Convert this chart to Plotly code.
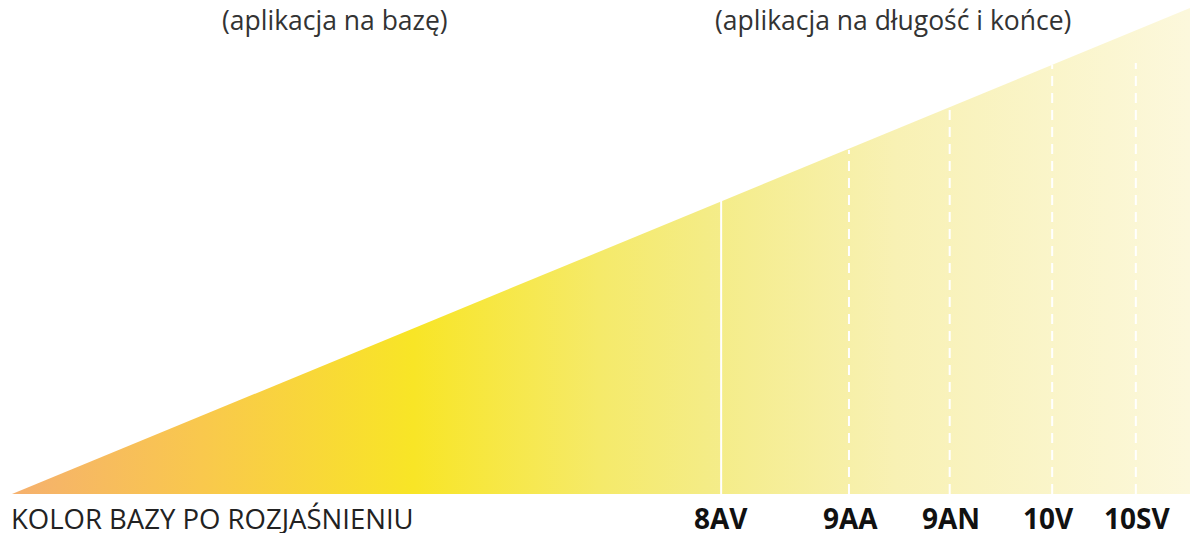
import plotly.graph_objects as go

# Lightening scale (0 = base colour tip, 100 = lightest end)
scale_start = 0
scale_end = 100
triangle_height = 1.0

levels = ["8AV", "9AA", "9AN", "10V", "10SV"]
level_positions = [60.2, 71.05, 79.6, 88.3, 95.4]
level_label_positions = [60.2, 71.2, 79.7, 88.0, 95.5]
level_line_tops = [0.603, 0.708, 0.794, 0.883, 0.887]
level_dash = ["solid", "10px,7px", "10px,7px", "10px,7px", "10px,7px"]

gradient_stops = [0.0, 0.16, 0.34, 0.50, 0.59, 0.75, 1.0]
gradient_colors = ["#F5B06E", "#F9C84D", "#F8E526", "#F5EA6A", "#F4EC86", "#F8F1B4", "#FCF8DC"]

base_label = "KOLOR BAZY PO ROZJAŚNIENIU"
top_left_text = "(aplikacja na bazę)"
top_right_text = "(aplikacja na długość i końce)"

FONT = "Open Sans, sans-serif"
LABEL_Y = -0.050

fig = go.Figure()

fig.add_trace(go.Scatter(
    x=[scale_start, scale_end, scale_end, scale_start],
    y=[0, triangle_height, 0, 0],
    mode="lines",
    line=dict(width=0),
    fill="toself",
    fillgradient=dict(
        type="horizontal",
        colorscale=[[s, c] for s, c in zip(gradient_stops, gradient_colors)],
    ),
    hoverinfo="skip",
    showlegend=False,
))

for name, pos, lpos, top, dash in zip(levels, level_positions, level_label_positions, level_line_tops, level_dash):
    fig.add_trace(go.Scatter(
        x=[pos, pos], y=[0, top], mode="lines",
        line=dict(color="white", width=2, dash=dash),
        hoverinfo="skip", showlegend=False,
    ))
    fig.add_annotation(
        x=lpos, y=LABEL_Y, xref="x", yref="paper", text=f"<b>{name}</b>",
        showarrow=False, xanchor="center", yanchor="middle",
        font=dict(family=FONT, size=28, color="#111111"),
    )

fig.add_annotation(
    x=-0.0025, y=LABEL_Y, xref="paper", yref="paper", text=base_label,
    showarrow=False, xanchor="left", yanchor="middle",
    font=dict(family=FONT, size=27.5, color="#222222"),
)
fig.add_annotation(
    x=27.4, y=0.975, xref="x", yref="paper", text=top_left_text,
    showarrow=False, xanchor="center", yanchor="middle",
    font=dict(family=FONT, size=26.5, color="#333333"),
)
fig.add_annotation(
    x=74.8, y=0.975, xref="x", yref="paper", text=top_right_text,
    showarrow=False, xanchor="center", yanchor="middle",
    font=dict(family=FONT, size=26.5, color="#333333"),
)

fig.update_xaxes(range=[scale_start, scale_end], visible=False, fixedrange=True)
fig.update_yaxes(range=[0, triangle_height], visible=False, fixedrange=True)
fig.update_layout(
    width=1190, height=533,
    margin=dict(l=12, r=0, t=8, b=39, pad=0),
    paper_bgcolor="white", plot_bgcolor="white",
    showlegend=False,
)

fig.write_html("out.html", config={"displayModeBar": False})

with open("out.html", encoding="utf-8") as f:
    html = f.read()
html = html.replace("<head>", "<head><style>html,body{margin:0;padding:0;overflow:hidden;}</style>", 1)
with open("out.html", "w", encoding="utf-8") as f:
    f.write(html)
